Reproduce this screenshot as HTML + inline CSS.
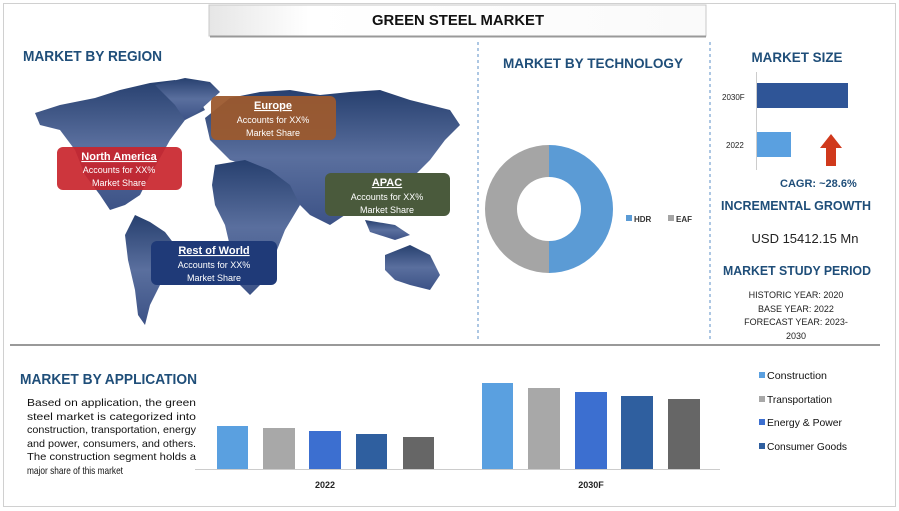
<!DOCTYPE html>
<html><head><meta charset="utf-8"><style>
body{margin:0;width:899px;height:511px;background:#fff;overflow:hidden;font-family:"Liberation Sans",sans-serif;}
svg{display:block}
text{font-family:"Liberation Sans",Arial,sans-serif}
.t{font-weight:bold;fill:#1f4e79}
</style></head><body>
<svg width="899" height="511" viewBox="0 0 899 511">
<defs>
<linearGradient id="map" x1="0" y1="0" x2="0" y2="1"><stop offset="0" stop-color="#27406f"/><stop offset="0.5" stop-color="#5a6f9e"/><stop offset="1" stop-color="#3c5286"/></linearGradient>
<linearGradient id="tb" x1="0" y1="0" x2="1" y2="0"><stop offset="0" stop-color="#e6e6e6"/><stop offset="0.2" stop-color="#fff"/><stop offset="1" stop-color="#fafafa"/></linearGradient>
</defs>
<rect x="3.5" y="3.5" width="892" height="503" fill="#fff" stroke="#d0d0d0"/>
<rect x="209" y="5" width="497" height="31" fill="url(#tb)" stroke="#c8c8c8"/>
<line x1="210" y1="36.5" x2="706" y2="36.5" stroke="#999" stroke-width="2"/>
<text x="458" y="25" text-anchor="middle" font-size="15" font-weight="bold" fill="#111" textLength="172" lengthAdjust="spacingAndGlyphs">GREEN STEEL MARKET</text>
<line x1="478" y1="42" x2="478" y2="340" stroke="#5b8fc7" stroke-dasharray="3,3"/>
<line x1="710" y1="42" x2="710" y2="340" stroke="#5b8fc7" stroke-dasharray="3,3"/>
<line x1="10" y1="345" x2="880" y2="345" stroke="#999" stroke-width="2"/>
<text class="t" x="23" y="61" font-size="15" textLength="139" lengthAdjust="spacingAndGlyphs">MARKET BY REGION</text>
<g fill="url(#map)">
<path d="M35,113 L60,105 L95,98 L120,90 L150,83 L175,80 L195,92 L205,110 L185,120 L170,140 L160,158 L150,175 L140,195 L125,205 L110,210 L100,195 L85,175 L75,150 L60,130 L40,125Z"/>
<path d="M155,85 L185,78 L210,82 L220,92 L200,110 L185,120 L175,105Z"/>
<path d="M135,215 L150,222 L165,232 L175,245 L170,265 L160,285 L150,305 L145,325 L138,315 L135,290 L128,260 L125,235Z"/>
<path d="M205,118 L230,98 L260,92 L290,90 L320,95 L350,92 L380,90 L410,100 L450,110 L460,125 L445,140 L430,160 L415,175 L400,185 L380,195 L365,200 L345,215 L330,225 L310,215 L290,195 L280,185 L260,175 L245,165 L230,160 L220,150 L210,140Z"/>
<path d="M215,165 L245,160 L270,170 L290,185 L300,205 L285,230 L275,255 L265,280 L250,295 L240,285 L232,255 L225,225 L215,205 L212,185Z"/>
<path d="M385,255 L410,245 L430,255 L440,275 L430,290 L410,285 L395,280 L385,270Z"/>
<path d="M365,220 L395,225 L410,235 L395,240 L370,232Z"/>
</g>
<rect x="57" y="147" width="125" height="43" rx="6" fill="#c9252c" opacity="0.92"/>
<text x="119" y="160" text-anchor="middle" font-size="11" font-weight="bold" fill="#fff" text-decoration="underline">North America</text>
<text x="119" y="173" text-anchor="middle" font-size="9" fill="#fff">Accounts for XX%</text>
<text x="119" y="186" text-anchor="middle" font-size="9" fill="#fff">Market Share</text>
<rect x="211" y="96" width="125" height="44" rx="6" fill="#9c5a2e" opacity="0.95"/>
<text x="273" y="109" text-anchor="middle" font-size="11" font-weight="bold" fill="#fff" text-decoration="underline">Europe</text>
<text x="273" y="123" text-anchor="middle" font-size="9" fill="#fff">Accounts for XX%</text>
<text x="273" y="136" text-anchor="middle" font-size="9" fill="#fff">Market Share</text>
<rect x="325" y="173" width="125" height="43" rx="6" fill="#4a5a3c"/>
<text x="387" y="186" text-anchor="middle" font-size="11" font-weight="bold" fill="#fff" text-decoration="underline">APAC</text>
<text x="387" y="200" text-anchor="middle" font-size="9" fill="#fff">Accounts for XX%</text>
<text x="387" y="213" text-anchor="middle" font-size="9" fill="#fff">Market Share</text>
<rect x="151" y="241" width="126" height="44" rx="6" fill="#1f3a78"/>
<text x="214" y="254" text-anchor="middle" font-size="11" font-weight="bold" fill="#fff" text-decoration="underline">Rest of World</text>
<text x="214" y="268" text-anchor="middle" font-size="9" fill="#fff">Accounts for XX%</text>
<text x="214" y="281" text-anchor="middle" font-size="9" fill="#fff">Market Share</text>
<text class="t" x="593" y="68" text-anchor="middle" font-size="14" textLength="180" lengthAdjust="spacingAndGlyphs">MARKET BY TECHNOLOGY</text>
<path d="M549,145 A64,64 0 0 1 549,273 L549,241 A32,32 0 0 0 549,177Z" fill="#5b9bd5"/>
<path d="M549,145 A64,64 0 0 0 549,273 L549,241 A32,32 0 0 1 549,177Z" fill="#a5a5a5"/>
<rect x="626" y="215" width="6" height="6" fill="#5b9bd5"/>
<text x="634" y="222" font-size="8" font-weight="bold" fill="#333">HDR</text>
<rect x="668" y="215" width="6" height="6" fill="#a5a5a5"/>
<text x="676" y="222" font-size="8" font-weight="bold" fill="#333">EAF</text>
<text class="t" x="797" y="62" text-anchor="middle" font-size="14" textLength="91" lengthAdjust="spacingAndGlyphs">MARKET SIZE</text>
<line x1="756.5" y1="72" x2="756.5" y2="170" stroke="#ccc"/>
<rect x="757" y="83" width="91" height="25" fill="#2f5597"/>
<rect x="757" y="132" width="34" height="25" fill="#5aa0e0"/>
<text x="722" y="100" font-size="8" fill="#222">2030F</text>
<text x="726" y="148" font-size="8" fill="#222">2022</text>
<path d="M826,166 L836,166 L836,148 L842,148 L831,134 L820,148 L826,148Z" fill="#d0391c"/>
<text class="t" x="780" y="187" font-size="11">CAGR:  ~28.6%</text>
<text class="t" x="796" y="210" text-anchor="middle" font-size="12.5" textLength="150" lengthAdjust="spacingAndGlyphs">INCREMENTAL GROWTH</text>
<text x="805" y="243" text-anchor="middle" font-size="13" fill="#222">USD 15412.15 Mn</text>
<text class="t" x="797" y="275" text-anchor="middle" font-size="12.5" textLength="148" lengthAdjust="spacingAndGlyphs">MARKET STUDY PERIOD</text>
<g font-size="9" fill="#222" text-anchor="middle">
<text x="796" y="298">HISTORIC YEAR: 2020</text>
<text x="796" y="312">BASE YEAR: 2022</text>
<text x="796" y="325">FORECAST YEAR: 2023-</text>
<text x="796" y="339">2030</text>
</g>
<text class="t" x="20" y="384" font-size="14.5" textLength="177" lengthAdjust="spacingAndGlyphs">MARKET BY APPLICATION</text>
<g font-size="10.5" fill="#111">
<text x="27" y="406" textLength="169" lengthAdjust="spacingAndGlyphs">Based on application, the green</text>
<text x="27" y="420" textLength="169" lengthAdjust="spacingAndGlyphs">steel market is categorized into</text>
<text x="27" y="433" textLength="169" lengthAdjust="spacingAndGlyphs">construction, transportation, energy</text>
<text x="27" y="447" textLength="169" lengthAdjust="spacingAndGlyphs">and power, consumers, and others.</text>
<text x="27" y="460" textLength="169" lengthAdjust="spacingAndGlyphs">The construction segment holds a</text>
<text x="27" y="474" textLength="96" lengthAdjust="spacingAndGlyphs">major share of this market</text>
</g>
<line x1="195" y1="469.5" x2="720" y2="469.5" stroke="#ccc"/>
<g>
<rect x="217" y="426" width="31" height="43" fill="#5aa0e0"/>
<rect x="263" y="428" width="32" height="41" fill="#a8a8a8"/>
<rect x="309" y="431" width="32" height="38" fill="#3c6fd0"/>
<rect x="356" y="434" width="31" height="35" fill="#2f5f9f"/>
<rect x="403" y="437" width="31" height="32" fill="#666"/>
<rect x="482" y="383" width="31" height="86" fill="#5aa0e0"/>
<rect x="528" y="388" width="32" height="81" fill="#a8a8a8"/>
<rect x="575" y="392" width="32" height="77" fill="#3c6fd0"/>
<rect x="621" y="396" width="32" height="73" fill="#2f5f9f"/>
<rect x="668" y="399" width="32" height="70" fill="#666"/>
</g>
<text x="325" y="488" text-anchor="middle" font-size="9" font-weight="bold" fill="#222">2022</text>
<text x="591" y="488" text-anchor="middle" font-size="9" font-weight="bold" fill="#222">2030F</text>
<g font-size="10.5" fill="#111">
<rect x="759" y="372" width="6" height="6" fill="#5aa0e0"/><text x="767" y="379" textLength="60" lengthAdjust="spacingAndGlyphs">Construction</text>
<rect x="759" y="396" width="6" height="6" fill="#a8a8a8"/><text x="767" y="403" textLength="65" lengthAdjust="spacingAndGlyphs">Transportation</text>
<rect x="759" y="419" width="6" height="6" fill="#3c6fd0"/><text x="767" y="426" textLength="75" lengthAdjust="spacingAndGlyphs">Energy &amp; Power</text>
<rect x="759" y="443" width="6" height="6" fill="#2f5f9f"/><text x="767" y="450" textLength="80" lengthAdjust="spacingAndGlyphs">Consumer Goods</text>
</g>
</svg>
</body></html>
